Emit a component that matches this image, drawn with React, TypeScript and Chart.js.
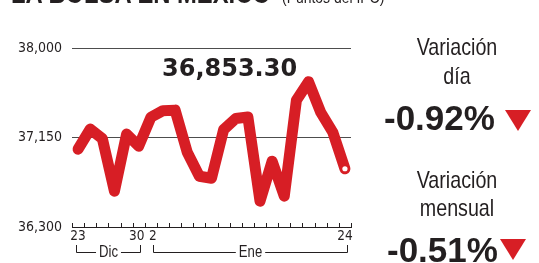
import React, { useEffect, useRef } from "react";
import { Chart, registerables } from "chart.js";

Chart.register(...registerables);

// ---- data ----
const decDays = ["23", "26", "27", "28", "29", "30"];
const janDays = ["2", "3", "4", "5", "6", "9", "10", "11", "12", "13", "16", "17", "18", "19", "20", "23", "24"];
const categories = [...decDays.map((d) => d + " Dic"), ...janDays.map((d) => d + " Ene")];
const ipcValues = [
  37039, 37230, 37140, 36640, 37183, 37067, 37342, 37405, 37410, 37010, 36782, 36763,
  37225, 37330, 37345, 36545, 36925, 36593, 37504, 37680, 37390, 37200, 36853.3,
];
const yTicks = [36300, 37150, 38000];
const shownTickIndex = [0, 5, 6, 22];
const shownTickText = ["23", "30", "2", "24"];
const monthNames = ["Dic", "Ene"];
const monthStart = [0, decDays.length];
const monthEnd = [decDays.length - 1, categories.length - 1];
const lastValueText = "36,853.30";
const dayChangeText = "-0.92%";
const monthChangeText = "-0.51%";

// ---- style ----
const INK = "#231f20";
const RED = "#d71e25";
const GRID = "#4d4d4d";
const COND = '"DejaVu Sans Condensed", "DejaVu Sans", sans-serif';
const WIDE = '"Liberation Sans", Arial, sans-serif';
const SQUEEZE = 0.82;
const tickPadLeft = ["", "", " ", ""];
const tickPadRight = ["", " ", "", ""];
const bracketInset = [
  [-2.5, 1.5],
  [2.5, 2],
];

const xDecorPlugin = {
  id: "xDecor",
  afterDraw(chart: any) {
    const ctx = chart.ctx;
    const xs = chart.scales.x;
    const base = xs.top;
    ctx.save();
    ctx.strokeStyle = INK;
    ctx.lineWidth = 1;
    for (let k = 0; k <= categories.length; k++) {
      const x = Math.round(xs.getPixelForValue(k - 0.5)) + 0.5;
      ctx.beginPath();
      ctx.moveTo(x, base);
      ctx.lineTo(x, base - 4);
      ctx.stroke();
    }
    ctx.font = `16px ${WIDE}`;
    ctx.fillStyle = INK;
    ctx.textAlign = "center";
    ctx.textBaseline = "alphabetic";
    for (let g = 0; g < monthNames.length; g++) {
      const l = Math.round(xs.getPixelForValue(monthStart[g]) + bracketInset[g][0]) + 0.5;
      const r = Math.round(xs.getPixelForValue(monthEnd[g]) + bracketInset[g][1]) + 0.5;
      const yTop = base + 18;
      const yLine = Math.round(base + 25) + 0.5;
      const mid = (l + r) / 2;
      const tw = ctx.measureText(monthNames[g]).width * SQUEEZE;
      ctx.beginPath();
      ctx.moveTo(l, yTop);
      ctx.lineTo(l, yLine);
      ctx.lineTo(mid - tw / 2 - 3, yLine);
      ctx.moveTo(mid + tw / 2 + 3, yLine);
      ctx.lineTo(r, yLine);
      ctx.lineTo(r, yTop);
      ctx.stroke();
      ctx.save();
      ctx.translate(mid, base + 29.5);
      ctx.scale(SQUEEZE, 1);
      ctx.fillText(monthNames[g], 0, 0);
      ctx.restore();
    }
    ctx.restore();
  },
};

function Txt(props: any) {
  const { left, top, size, weight, family, width, align, squeeze, children } = props;
  const origin = align === "center" ? "50% 50%" : "0 50%";
  return (
    <div
      style={{
        position: "absolute",
        left,
        top,
        width,
        textAlign: align || "left",
        fontSize: size,
        lineHeight: 1,
        fontWeight: weight || 400,
        fontFamily: family || WIDE,
        color: INK,
        whiteSpace: "nowrap",
        transform: squeeze ? `scaleX(${squeeze})` : undefined,
        transformOrigin: origin,
      }}
    >
      {children}
    </div>
  );
}

function Tri(props: any) {
  return (
    <div
      style={{
        position: "absolute",
        left: props.left,
        top: props.top,
        width: 0,
        height: 0,
        borderLeft: "13.5px solid transparent",
        borderRight: "13.5px solid transparent",
        borderTop: `21px solid ${RED}`,
      }}
    />
  );
}

export default function App() {
  const ref = useRef<HTMLCanvasElement>(null);
  useEffect(() => {
    const canvas = ref.current;
    if (!canvas) return;
    const n = ipcValues.length;
    const chart = new Chart(canvas, {
      type: "line",
      data: {
        labels: categories,
        datasets: [
          {
            data: ipcValues,
            borderColor: RED,
            borderWidth: 11,
            borderJoinStyle: "round",
            borderCapStyle: "round",
            tension: 0,
            fill: false,
            clip: false as any,
            pointRadius: ipcValues.map((_, i) => (i === n - 1 ? 2.6 : 0)),
            pointHoverRadius: 0,
            pointBackgroundColor: "#ffffff",
            pointBorderWidth: 0,
          },
        ],
      },
      options: {
        responsive: false,
        animation: false,
        devicePixelRatio: 1,
        events: [],
        layout: { padding: { left: 0, right: 188, top: 48, bottom: 0 } },
        plugins: { legend: { display: false }, tooltip: { enabled: false }, title: { display: false } },
        scales: {
          x: {
            type: "category",
            offset: true,
            grid: { display: false, drawTicks: false },
            border: { display: true, color: INK, width: 1 },
            afterFit: (s: any) => {
              s.height = 36;
            },
            ticks: {
              autoSkip: false,
              maxRotation: 0,
              minRotation: 0,
              padding: 1,
              color: INK,
              font: { family: COND, size: 13.5 },
              callback: (_v: any, i: number) => {
                const k = shownTickIndex.indexOf(i);
                return k >= 0 ? tickPadLeft[k] + shownTickText[k] + tickPadRight[k] : "";
              },
            },
          },
          y: {
            min: yTicks[0],
            max: yTicks[yTicks.length - 1],
            afterFit: (s: any) => {
              s.width = 72;
            },
            afterBuildTicks: (s: any) => {
              s.ticks = yTicks.map((v) => ({ value: v }));
            },
            border: { display: false },
            grid: {
              drawTicks: false,
              lineWidth: 1,
              color: (c: any) => (c.tick && c.tick.value === yTicks[0] ? "rgba(0,0,0,0)" : GRID),
            },
            ticks: {
              padding: 10,
              color: INK,
              font: { family: COND, size: 14 },
              callback: (v: any) => Number(v).toLocaleString("en-US"),
            },
          },
        },
      },
      plugins: [xDecorPlugin],
    });
    return () => chart.destroy();
  }, []);

  return (
    <div
      style={{
        position: "fixed",
        left: 0,
        top: 0,
        width: 539,
        height: 263,
        background: "#fff",
        overflow: "hidden",
      }}
    >
      <canvas ref={ref} width={539} height={263} style={{ position: "absolute", left: 0, top: 0 }} />
      <Txt left={10.5} top={-21} size={29} weight={700} squeeze={SQUEEZE}>
        LA BOLSA EN MÉXICO
      </Txt>
      <Txt left={282} top={-11} size={17} squeeze={SQUEEZE}>
        (Puntos del IPC)
      </Txt>
      <Txt left={162} top={56.4} size={24} weight={700} family='"DejaVu Sans", sans-serif'>
        {lastValueText}
      </Txt>
      <Txt left={397} top={34.7} width={120} align="center" size={24} squeeze={SQUEEZE}>
        Variación
      </Txt>
      <Txt left={397} top={64.2} width={120} align="center" size={24} squeeze={SQUEEZE}>
        día
      </Txt>
      <Txt left={384} top={100.4} size={35} weight={700}>
        {dayChangeText}
      </Txt>
      <Tri left={505} top={110} />
      <Txt left={397} top={168} width={120} align="center" size={24} squeeze={SQUEEZE}>
        Variación
      </Txt>
      <Txt left={397} top={196.2} width={120} align="center" size={24} squeeze={SQUEEZE}>
        mensual
      </Txt>
      <Txt left={387} top={231.9} size={35} weight={700}>
        {monthChangeText}
      </Txt>
      <Tri left={500} top={239} />
    </div>
  );
}
